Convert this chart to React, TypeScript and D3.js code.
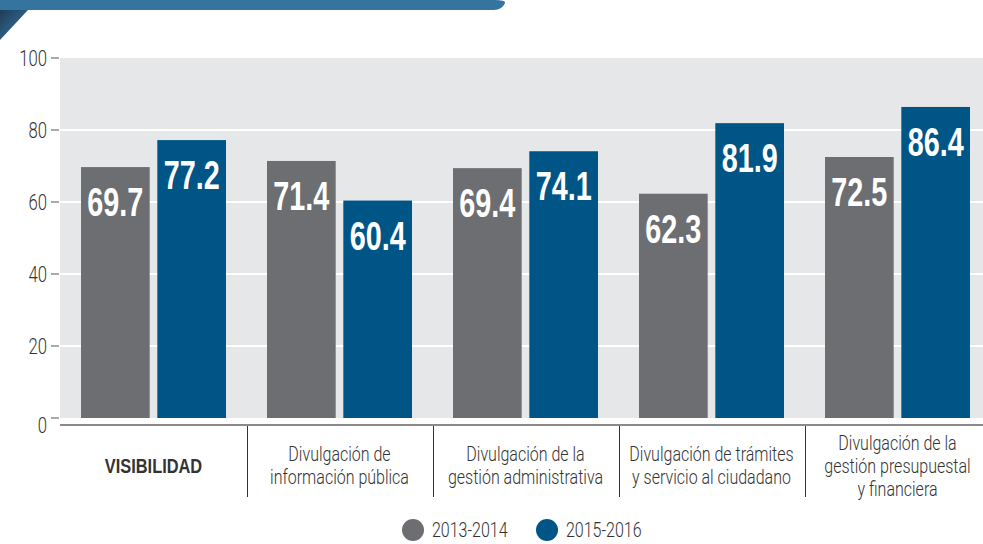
import React, { useEffect, useRef } from "react";
import * as d3 from "d3";

const categories = [
  ["VISIBILIDAD"],
  ["Divulgación de", "información pública"],
  ["Divulgación de la", "gestión administrativa"],
  ["Divulgación de trámites", "y servicio al ciudadano"],
  ["Divulgación de la", "gestión presupuestal", "y financiera"],
];
const series2013 = [69.7, 71.4, 69.4, 62.3, 72.5];
const series2015 = [77.2, 60.4, 74.1, 81.9, 86.4];
const seriesNames = ["2013-2014", "2015-2016"];
const yTicks = [0, 20, 40, 60, 80, 100];

const GRAY = "#6d6e71";
const BLUE = "#005587";
const FONT = "'Liberation Sans', Arial, sans-serif";
const LIGHT = "Roboto, 'Liberation Sans', sans-serif";

const App = () => {
  const ref = useRef<SVGSVGElement>(null);

  useEffect(() => {
    const W = 983;
    const svg = d3.select(ref.current);
    svg.selectAll("*").remove();

    const keys = categories.map((_, i) => String(i));
    const x = d3.scaleBand().domain(keys).range([60.5, 990.5]).paddingInner(0).paddingOuter(0);
    const inner = d3.scaleBand().domain(["a", "b"]).range([20.5, x.bandwidth() - 20.5]).paddingInner(0.1);
    const y = d3.scaleLinear().domain([0, 100]).range([418, 58]);

    // banner
    const defs = svg.append("defs");
    const grad = defs.append("linearGradient").attr("id", "tri").attr("x1", 0).attr("y1", 0).attr("x2", 1).attr("y2", 1);
    grad.append("stop").attr("offset", "0%").attr("stop-color", "#1d3d57");
    grad.append("stop").attr("offset", "100%").attr("stop-color", "#3a7bab");
    svg.append("path")
      .attr("d", "M0,0 H495 Q506,0 505,3 Q502,10 494,10 H0 Z")
      .attr("fill", "#3674a0");
    svg.append("path").attr("d", "M0,10 H28 L0,40 Z").attr("fill", "url(#tri)");

    // plot background + grid
    svg.append("rect").attr("x", 60).attr("y", y(100)).attr("width", W - 60).attr("height", y(0) - y(100)).attr("fill", "#e6e7e8");
    svg.append("g").selectAll("line").data(yTicks.filter((t) => t > 0 && t < 100)).join("line")
      .attr("x1", 60).attr("x2", W).attr("y1", (d) => y(d)).attr("y2", (d) => y(d))
      .attr("stroke", "#fff").attr("stroke-width", 2);

    // y axis ticks
    const yg = svg.append("g");
    yg.selectAll("line").data(yTicks).join("line")
      .attr("x1", 51).attr("x2", 59).attr("y1", (d) => y(d)).attr("y2", (d) => y(d))
      .attr("stroke", "#555").attr("stroke-width", 1);
    yg.selectAll("text").data(yTicks).join("text")
      .attr("transform", (d) => `translate(47,${y(d) + (d === 0 ? 15 : 8)}) scale(0.76,1)`)
      .attr("text-anchor", "end")
      .attr("font-family", LIGHT).attr("font-weight", 300).attr("font-size", 22).attr("fill", "#333")
      .text((d) => d);

    // bars
    const groups = svg.append("g").selectAll("g").data(keys).join("g")
      .attr("transform", (k) => `translate(${x(k)},0)`);
    const barData = (k: string) => {
      const i = +k;
      return [
        { key: "a", v: series2013[i], c: GRAY },
        { key: "b", v: series2015[i], c: BLUE },
      ];
    };
    groups.selectAll("rect").data(barData).join("rect")
      .attr("x", (d) => inner(d.key)!).attr("y", (d) => y(d.v))
      .attr("width", inner.bandwidth()).attr("height", (d) => y(0) - y(d.v))
      .attr("fill", (d) => d.c);
    groups.selectAll("text").data(barData).join("text")
      .attr("transform", (d) => `translate(${inner(d.key)! + inner.bandwidth() / 2},${y(d.v) + 49}) scale(0.72,1)`)
      .attr("text-anchor", "middle").attr("font-family", FONT)
      .attr("font-weight", "bold").attr("font-size", 40).attr("fill", "#fff")
      .text((d) => d.v.toFixed(1));

    // x axis line and separators
    svg.append("line").attr("x1", 60).attr("x2", W).attr("y1", 425).attr("y2", 425)
      .attr("stroke", "#8a8a8a").attr("stroke-width", 2);
    svg.append("g").selectAll("line").data(keys.slice(1)).join("line")
      .attr("x1", (k) => Math.round(x(k)!) + 0.5).attr("x2", (k) => Math.round(x(k)!) + 0.5).attr("y1", 426).attr("y2", 497)
      .attr("stroke", "#333").attr("stroke-width", 1);

    // category labels
    const lab = svg.append("g").selectAll("text").data(keys).join("text")
      .attr("transform", (k) => `translate(${x(k)! + x.bandwidth() / 2},0) scale(${k === "0" ? 0.82 : 0.8},1)`)
      .attr("text-anchor", "middle").attr("fill", "#333")
      .attr("font-size", 20)
      .attr("font-family", (k) => (k === "0" ? FONT : LIGHT))
      .attr("font-weight", (k) => (k === "0" ? "bold" : 300));
    lab.each(function (k) {
      const lines = categories[+k];
      const lh = 23;
      const startY = 466 - ((lines.length - 1) * lh) / 2 + 7;
      d3.select(this).selectAll("tspan").data(lines).join("tspan")
        .attr("x", 0).attr("y", (_, j) => startY + j * lh).text((t) => t);
    });

    // legend
    const leg = svg.append("g");
    const legX = [413, 547];
    leg.selectAll("circle").data(seriesNames).join("circle")
      .attr("cx", (_, i) => legX[i]).attr("cy", 530).attr("r", 11)
      .attr("fill", (_, i) => (i === 0 ? GRAY : BLUE));
    leg.selectAll("text").data(seriesNames).join("text")
      .attr("transform", (_, i) => `translate(${legX[i] + 19},537) scale(0.8,1)`)
      .attr("font-family", LIGHT).attr("font-weight", 300).attr("font-size", 20).attr("fill", "#333")
      .text((d) => d);
  }, []);

  return (
    <svg ref={ref} width={983} height={544} style={{ position: "absolute", left: 0, top: 0, background: "#fff" }} />
  );
};

export default App;
